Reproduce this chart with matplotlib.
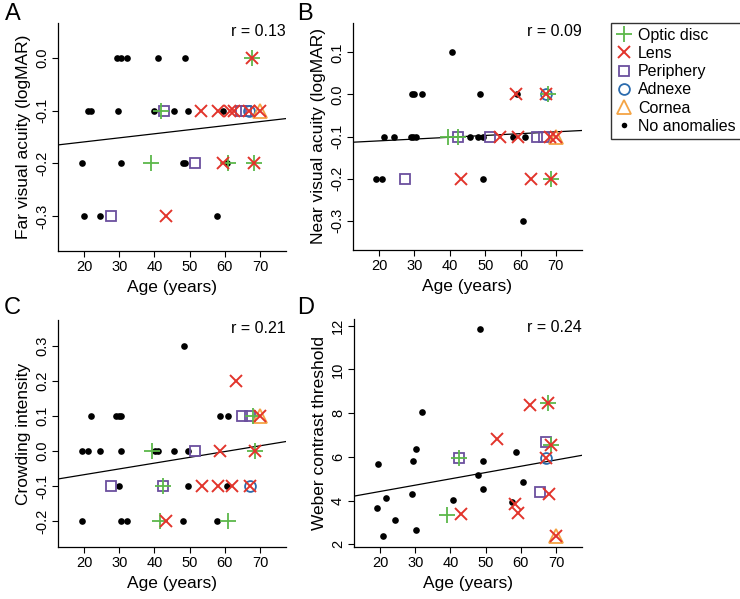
import matplotlib
matplotlib.use('Agg')
import matplotlib.pyplot as plt
from matplotlib.lines import Line2D

plt.rcParams['font.family'] = ['Liberation Sans', 'DejaVu Sans']

# kinds: '' = no anomaly, O = optic disc, L = lens, P = periphery, A = adnexe, C = cornea

# A: far visual acuity
a_age = [29.3, 30.5, 32.3, 41.0, 48.6, 67.8,
         21.1, 22.1, 29.6, 40.0, 45.6, 49.5, 59.4, 41.9, 42.6, 53.2, 58.1, 61.4, 62.6, 64.6, 65.9, 66.8, 70.0,
         19.5, 30.5, 48.1, 48.7, 60.5, 39.0, 51.4, 59.4, 61.0, 68.2,
         20.0, 24.5, 57.8, 27.7, 43.3]
a_val = [0.0, 0.0, 0.0, 0.0, 0.0, 0.0,
         -0.1, -0.1, -0.1, -0.1, -0.1, -0.1, -0.1, -0.1, -0.1, -0.1, -0.1, -0.1, -0.1, -0.1, -0.1, -0.1, -0.1,
         -0.2, -0.2, -0.2, -0.2, -0.2, -0.2, -0.2, -0.2, -0.2, -0.2,
         -0.3, -0.3, -0.3, -0.3, -0.3]
a_kind = ['', '', '', '', '', 'OL',
          '', '', '', '', '', '', '', 'O', 'P', 'L', 'L', 'L', 'L', 'P', 'P', 'AL', 'CL',
          '', '', '', '', '', 'O', 'P', 'L', 'O', 'OL',
          '', '', '', 'P', 'L']

# B: near visual acuity
b_age = [40.7,
         29.2, 29.9, 32.1, 48.5, 59.1, 58.6, 67.2, 67.9,
         21.5, 24.1, 28.9, 29.6, 30.3, 45.7, 48.1, 49.3, 57.9, 61.2, 39.4, 42.3, 51.4, 54.1, 59.3, 64.8, 66.6, 68.3, 70.0,
         19.2, 20.9, 49.5, 27.2, 43.1, 62.9, 68.6,
         60.7]
b_val = [0.1,
         0.0, 0.0, 0.0, 0.0, 0.0, 0.0, 0.0, 0.0,
         -0.1, -0.1, -0.1, -0.1, -0.1, -0.1, -0.1, -0.1, -0.1, -0.1, -0.1, -0.1, -0.1, -0.1, -0.1, -0.1, -0.1, -0.1, -0.1,
         -0.2, -0.2, -0.2, -0.2, -0.2, -0.2, -0.2,
         -0.3]
b_kind = ['',
          '', '', '', '', '', 'L', 'AL', 'O',
          '', '', '', '', '', '', '', '', '', '', 'O', 'OP', 'P', 'L', 'L', 'P', 'P', 'L', 'CL',
          '', '', '', 'P', 'L', 'L', 'OL',
          '']

# C: crowding intensity
c_age = [48.5, 63.1,
         22.1, 29.2, 29.9, 30.6, 58.6, 61.0, 65.0, 67.3, 68.0, 70.0,
         19.5, 21.1, 24.5, 30.6, 40.3, 40.9, 45.6, 49.5, 39.3, 51.4, 58.6, 68.5,
         29.9, 49.5, 60.5, 27.7, 42.4, 53.4, 58.1, 62.0, 67.2,
         19.5, 30.6, 32.3, 48.1, 57.7, 41.5, 61.0, 43.3]
c_val = [0.3, 0.2,
         0.1, 0.1, 0.1, 0.1, 0.1, 0.1, 0.1, 0.1, 0.1, 0.1,
         0.0, 0.0, 0.0, 0.0, 0.0, 0.0, 0.0, 0.0, 0.0, 0.0, 0.0, 0.0,
         -0.1, -0.1, -0.1, -0.1, -0.1, -0.1, -0.1, -0.1, -0.1,
         -0.2, -0.2, -0.2, -0.2, -0.2, -0.2, -0.2, -0.2]
c_kind = ['', 'L',
          '', '', '', '', '', '', 'P', 'P', 'O', 'CL',
          '', '', '', '', '', '', '', '', 'O', 'P', 'L', 'OL',
          '', '', '', 'P', 'OP', 'L', 'L', 'L', 'AL',
          '', '', '', '', '', 'O', 'O', 'L']

# D: Weber contrast threshold
d_age = [19.5, 19.0, 20.9, 21.7, 24.2, 29.3, 29.1, 30.1, 30.1, 32.0, 40.7, 48.3, 47.9, 49.2, 49.2, 58.7, 60.6, 57.6,
         39.0, 42.9, 42.3, 53.2, 58.3, 59.2, 62.5, 67.7, 67.3, 68.7, 67.1, 65.6, 68.0, 69.9]
d_val = [5.68, 3.67, 2.37, 4.11, 3.12, 5.82, 4.31, 6.38, 2.65, 8.03, 4.02, 11.86, 5.18, 5.82, 4.51, 6.23, 4.83, 3.93,
         3.34, 3.40, 5.93, 6.81, 3.85, 3.42, 8.39, 8.44, 6.68, 6.53, 5.97, 4.40, 4.29, 2.37]
d_kind = ['', '', '', '', '', '', '', '', '', '', '', '', '', '', '', '', '', '',
          'O', 'L', 'OP', 'L', 'L', 'L', 'L', 'OL', 'P', 'OL', 'AL', 'P', 'L', 'CL']

# fitted lines (intercept, slope) and r
fits = [(-0.1747, 0.00077), (-0.119, 0.00043), (-0.1006, 0.00165), (3.842, 0.0288)]
r_vals = ['0.13', '0.09', '0.21', '0.24']

green = '#5cb84a'
red = '#e2342b'
purple = '#6b4f9e'
blue = '#2c6cae'
orange = '#f4a444'

styles = {
    'P': dict(marker='s', mfc='none', mec=purple, ms=7.8, mew=1.3, ls='none'),
    'A': dict(marker='o', mfc='none', mec=blue, ms=7.8, mew=1.3, ls='none'),
    'C': dict(marker='^', mfc='none', mec=orange, ms=9.5, mew=1.3, ls='none'),
    'O': dict(marker='+', color=green, ms=12, mew=1.3, ls='none'),
    'L': dict(marker='x', color=red, ms=8.5, mew=1.4, ls='none'),
}
dot_style = dict(marker='o', color='black', ms=4.8, mew=0, ls='none')

W, H = 740, 599
fig = plt.figure(figsize=(W / 100, H / 100), dpi=100)

panels = [
    (a_age, a_val, a_kind, 'Far visual acuity (logMAR)', (58, 286, 23, 251), (-0.366, 0.066),
     [0.0, -0.1, -0.2, -0.3], '%.1f', 'A', (5, 3)),
    (b_age, b_val, b_kind, 'Near visual acuity (logMAR)', (353, 582, 23, 250), (-0.37, 0.17),
     [0.1, 0.0, -0.1, -0.2, -0.3], '%.1f', 'B', (297, 3)),
    (c_age, c_val, c_kind, 'Crowding intensity', (58, 286, 320, 547), (-0.274, 0.374),
     [0.3, 0.2, 0.1, 0.0, -0.1, -0.2], '%.1f', 'C', (4, 297)),
    (d_age, d_val, d_kind, 'Weber contrast threshold', (354, 582, 319, 547), (1.88, 12.3),
     [2, 4, 6, 8, 10, 12], '%d', 'D', (297, 297)),
]

for i, (ages, vals, kinds, ylab, box, ylim, yt, fmt, letter, lpos) in enumerate(panels):
    x0, x1, y0, y1 = box
    ax = fig.add_axes([x0 / W, 1 - y1 / H, (x1 - x0) / W, (y1 - y0) / H])
    ax.set_xlim(12.6, 77.4)
    ax.set_ylim(*ylim)
    for s in ['top', 'right']:
        ax.spines[s].set_visible(False)
    for s in ['left', 'bottom']:
        ax.spines[s].set_linewidth(0.9)

    b0, b1 = fits[i]
    ax.plot([12.6, 77.4], [b0 + b1 * 12.6, b0 + b1 * 77.4], color='black', lw=0.9)

    xs = [a for a, k in zip(ages, kinds) if k == '']
    ys = [v for v, k in zip(vals, kinds) if k == '']
    ax.plot(xs, ys, **dot_style)
    for code in ['P', 'A', 'C', 'O', 'L']:
        xs = [a for a, k in zip(ages, kinds) if code in k]
        ys = [v for v, k in zip(vals, kinds) if code in k]
        if xs:
            ax.plot(xs, ys, **styles[code])

    ax.set_xticks([20, 30, 40, 50, 60, 70])
    ax.set_yticks(yt)
    ax.set_yticklabels([fmt % t for t in yt], rotation=90, va='center')
    ax.tick_params(direction='out', length=4.5, width=0.8, labelsize=10.5, pad=2)
    ax.set_xlabel('Age (years)', fontsize=12.5, labelpad=4)
    ax.set_ylabel(ylab, fontsize=12.5, labelpad=3)
    ax.text(1.0, 0.995, 'r = ' + r_vals[i], transform=ax.transAxes, ha='right', va='top', fontsize=11.5)
    fig.text(lpos[0] / W, 1 - lpos[1] / H, letter, ha='left', va='top', fontsize=17)

labels = ['Optic disc', 'Lens', 'Periphery', 'Adnexe', 'Cornea', 'No anomalies']
handles = [Line2D([], [], **styles['O']), Line2D([], [], **styles['L']),
           Line2D([], [], **styles['P']), Line2D([], [], **styles['A']),
           Line2D([], [], **styles['C']), Line2D([], [], **dict(dot_style, ms=4))]
leg = fig.legend(handles, labels, loc='upper left', bbox_to_anchor=(611 / W, 1 - 23 / H),
                 frameon=True, fancybox=False, edgecolor='black', fontsize=11.5,
                 handlelength=1.0, handletextpad=0.4, borderpad=0.3, labelspacing=0.2,
                 borderaxespad=0)
leg.get_frame().set_linewidth(1.0)

fig.savefig('out.png', dpi=100)
